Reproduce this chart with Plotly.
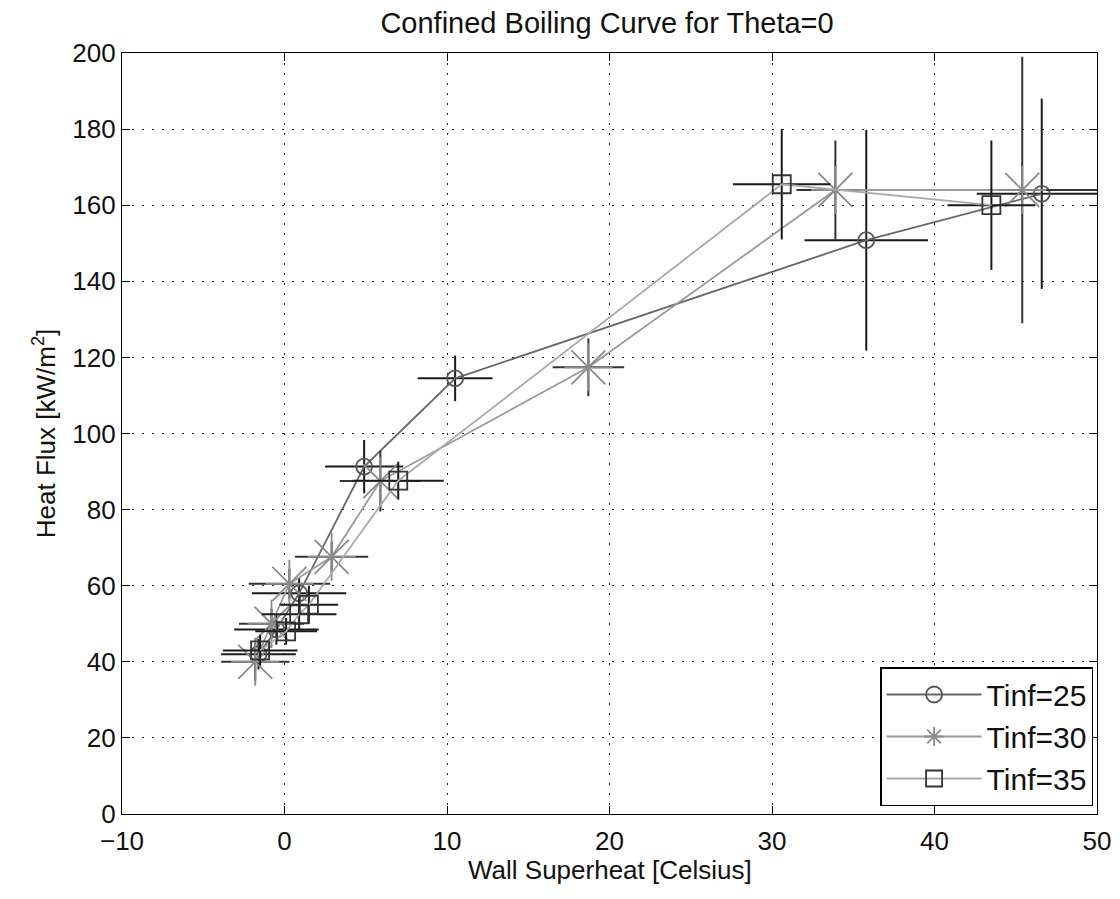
import plotly.graph_objects as go

# Tinf = 25 (circles)
x25 = [-1.6, -0.5, 0.9, 4.9, 10.5, 35.8, 46.6]
y25 = [42, 48.5, 58, 91.3, 114.5, 150.8, 163]
ex25 = [2.3, 2.6, 2.9, 2.4, 2.3, 3.8, 4.0]
ey25 = [4, 4, 4, 7, 6, 29, 25]

# Tinf = 30 (asterisks)
x30 = [-1.8, -0.8, 0.3, 2.9, 5.9, 18.7, 33.9, 45.4]
y30 = [40, 50, 60.5, 67.6, 87.5, 117.4, 164, 164]
ex30 = [2.1, 2.0, 2.5, 2.25, 2.5, 2.2, 2.4, 4.6]
ey30 = [5, 4, 4, 4, 8, 7.6, 13, 35]

# Tinf = 35 (squares)
x35 = [-1.5, 0.1, 0.9, 1.5, 7.0, 30.6, 43.5]
y35 = [43, 48, 52.5, 55, 87.6, 165.5, 160]
ex35 = [2.3, 1.9, 2.3, 1.8, 2.8, 3.0, 2.7]
ey35 = [4, 3.5, 4, 5, 5, 14.5, 17]

x_ticks = [-10, 0, 10, 20, 30, 40, 50]
y_ticks = [0, 20, 40, 60, 80, 100, 120, 140, 160, 180, 200]

fig = go.Figure()

series = [
    ("Tinf=25", x25, y25, ex25, ey25, "circle-open", 16, "#666666", "#555555", "#1a1a1a"),
    ("Tinf=30", x30, y30, ex30, ey30, "asterisk-open", 40, "#9a9a9a", "#8a8a8a", "#333333"),
    ("Tinf=35", x35, y35, ex35, ey35, "square-open", 18, "#aaaaaa", "#333333", "#1a1a1a"),
]

for name, xs, ys, exs, eys, sym, sz, lc, mc, ec in series:
    fig.add_trace(go.Scatter(
        x=xs, y=ys, name=name, mode="lines+markers",
        line=dict(color=lc, width=1.8),
        marker=dict(symbol=sym, size=sz, color=mc, line=dict(color=mc, width=1.8)),
        error_x=dict(type="data", array=exs, visible=True, width=0, thickness=2, color=ec),
        error_y=dict(type="data", array=eys, visible=True, width=0, thickness=2, color=ec),
    ))

FONT = "Liberation Sans, Arial"
axis_common = dict(
    showline=True, linecolor="black", linewidth=1.2, mirror="ticks",
    ticks="inside", ticklen=8, tickcolor="black",
    showgrid=True, gridcolor="#222222", gridwidth=1.3, griddash="2px,8px",
    zeroline=False, automargin=False,
    tickfont=dict(family=FONT, size=26, color="#111"),
    title_font=dict(family=FONT, size=26, color="#111"),
)

fig.update_xaxes(range=[-10, 50], tickvals=x_ticks,
                 ticktext=["\u221210"] + [str(v) for v in x_ticks[1:]],
                 ticklabelstandoff=4, **axis_common)
fig.update_yaxes(range=[0, 200], tickvals=y_ticks,
                 title_text="Heat Flux [kW/m<sup>2</sup>]", title_standoff=9, **axis_common)

fig.add_annotation(text="Wall Superheat [Celsius]", xref="paper", yref="paper",
                   x=0.5, y=-0.074, xanchor="center", yanchor="middle", showarrow=False,
                   font=dict(family=FONT, size=26, color="#111"))

fig.update_layout(
    width=1120, height=899,
    margin=dict(l=122, r=23, t=53, b=85),
    paper_bgcolor="white", plot_bgcolor="white",
    title=dict(text="Confined Boiling Curve for Theta=0", x=0.542, xanchor="center",
               y=0.975, yanchor="middle",
               font=dict(family=FONT, size=29, color="#111")),
    legend=dict(x=0.996, y=0.0105, xanchor="right", yanchor="bottom",
                bgcolor="white", bordercolor="black", borderwidth=1.5,
                font=dict(family=FONT, size=30, color="#111"),
                itemwidth=95, tracegroupgap=0),
    showlegend=True,
)

fig.write_html("out.html")
